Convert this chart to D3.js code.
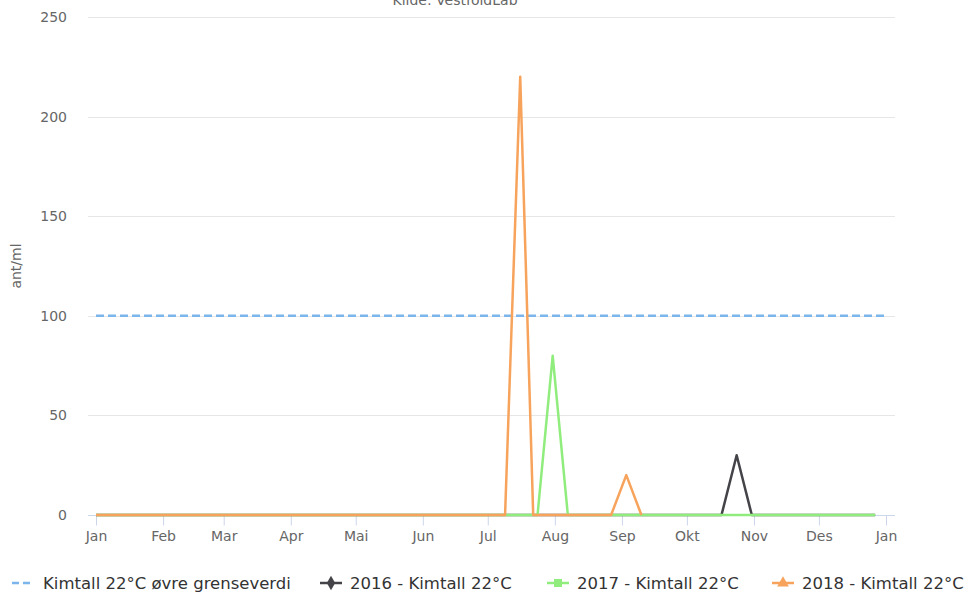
<!DOCTYPE html>
<html>
<head>
<meta charset="utf-8">
<script src="https://cdn.jsdelivr.net/npm/d3@7"></script>
<style>
  body { margin: 0; background: #fff; }
  text { font-family: "DejaVu Sans", sans-serif; }
</style>
</head>
<body>
<div id="caja"></div>
<script>
// verdier lest av bildet (ant/ml), datoer i 2018-aksen
var maaneder = ["Jan", "Feb", "Mar", "Apr", "Mai", "Jun", "Jul", "Aug", "Sep", "Okt", "Nov", "Des", "Jan"];
var yTicks = [0, 50, 100, 150, 200, 250];

var grenseDatoer = ["2018-01-01", "2019-01-01"];
var grenseVerdier = [100, 100];

var datoer2016 = ["2018-01-01", "2018-10-17", "2018-10-24", "2018-10-31", "2018-12-27"];
var verdier2016 = [0, 0, 30, 0, 0];

var datoer2017 = ["2018-01-01", "2018-07-24", "2018-07-31", "2018-08-07", "2018-12-27"];
var verdier2017 = [0, 0, 80, 0, 0];

var datoer2018 = ["2018-01-01", "2018-07-09", "2018-07-16", "2018-07-22", "2018-08-27", "2018-09-03", "2018-09-10"];
var verdier2018 = [0, 0, 220, 0, 0, 20, 0];

var serieNavn = ["Kimtall 22°C øvre grenseverdi", "2016 - Kimtall 22°C", "2017 - Kimtall 22°C", "2018 - Kimtall 22°C"];

var w = 971, h = 599;
var parse = d3.timeParse("%Y-%m-%d");

function lagSerie(datoer, verdier) {
	return datoer.map(function(d, i) { return {dato: parse(d), v: verdier[i]}; });
}

var serier = [
	{navn: serieNavn[0], farge: "#7cb5ec", data: lagSerie(grenseDatoer, grenseVerdier), dash: "8,4", symbol: null},
	{navn: serieNavn[1], farge: "#434348", data: lagSerie(datoer2016, verdier2016), symbol: d3.symbolDiamond},
	{navn: serieNavn[2], farge: "#90ed7d", data: lagSerie(datoer2017, verdier2017), symbol: d3.symbolSquare},
	{navn: serieNavn[3], farge: "#f7a35c", data: lagSerie(datoer2018, verdier2018), symbol: d3.symbolTriangle}
];

var svg = d3.select("#caja").append("svg")
	.attr("width", w)
	.attr("height", h);

var x = d3.scaleTime()
	.domain([parse("2018-01-01"), parse("2019-01-01")])
	.range([96, 886]);

var y = d3.scaleLinear()
	.domain([0, 250])
	.range([515, 17]);

var plotV = 88, plotH = 895;

// tittel (avskåret i toppen, som i originalen)
svg.append("text")
	.attr("x", 455).attr("y", 5)
	.attr("text-anchor", "middle")
	.attr("font-size", "14px")
	.attr("fill", "#666")
	.text("Kilde: VestfoldLab");

// rutenett
svg.append("g").selectAll("line")
	.data(yTicks)
	.enter().append("line")
	.attr("x1", plotV).attr("x2", plotH)
	.attr("y1", function(d) { return Math.round(y(d)) + 0.5; })
	.attr("y2", function(d) { return Math.round(y(d)) + 0.5; })
	.attr("stroke", "#e6e6e6")
	.attr("stroke-width", 1);

// y-etiketter
svg.append("g").selectAll("text")
	.data(yTicks)
	.enter().append("text")
	.attr("x", 67)
	.attr("y", function(d) { return y(d) + 5; })
	.attr("text-anchor", "end")
	.attr("font-size", "14px")
	.attr("fill", "#666")
	.text(function(d) { return d; });

svg.append("text")
	.attr("transform", "translate(21,266) rotate(-90)")
	.attr("text-anchor", "middle")
	.attr("font-size", "14px")
	.attr("fill", "#666")
	.text("ant/ml");

// x-akse
var maanedDatoer = d3.timeMonth.range(parse("2018-01-01"), parse("2019-01-02"));
var xAkse = d3.axisBottom(x)
	.tickValues(maanedDatoer)
	.tickSize(10)
	.tickPadding(6)
	.tickFormat(function(d, i) { return maaneder[i]; });

var gx = svg.append("g")
	.attr("transform", "translate(0,515.5)")
	.call(xAkse);
gx.select(".domain").remove();
gx.append("line")
	.attr("x1", plotV).attr("x2", plotH)
	.attr("stroke", "#ccd6eb");
gx.selectAll(".tick line").attr("stroke", "#ccd6eb");
gx.selectAll(".tick text")
	.attr("font-family", "DejaVu Sans, sans-serif")
	.attr("font-size", "14px")
	.attr("fill", "#666");

// linjer
var linje = d3.line()
	.x(function(d) { return x(d.dato); })
	.y(function(d) { return y(d.v); });

svg.append("g").selectAll("path")
	.data(serier)
	.enter().append("path")
	.attr("d", function(d) { return linje(d.data); })
	.attr("fill", "none")
	.attr("stroke", function(d) { return d.farge; })
	.attr("stroke-width", 2.5)
	.attr("stroke-dasharray", function(d) { return d.dash || null; })
	.attr("stroke-linejoin", "round");

// tegnforklaring
var legendX = [12, 320, 547, 772];
var leg = svg.append("g").selectAll("g")
	.data(serier)
	.enter().append("g")
	.attr("transform", function(d, i) { return "translate(" + legendX[i] + ",583)"; });

leg.append("line")
	.attr("x1", 0).attr("x2", 22)
	.attr("y1", 0).attr("y2", 0)
	.attr("stroke", function(d) { return d.farge; })
	.attr("stroke-width", 2.5)
	.attr("stroke-dasharray", function(d) { return d.dash ? "7,4" : null; });

leg.filter(function(d) { return d.symbol; })
	.append("path")
	.attr("transform", "translate(11,0)")
	.attr("d", function(d) { return d3.symbol().type(d.symbol).size(d.symbol === d3.symbolSquare ? 64 : 60)(); })
	.attr("fill", function(d) { return d.farge; });

leg.append("text")
	.attr("x", function(d, i) { return i === 0 ? 31 : 30; })
	.attr("y", 6)
	.attr("font-size", "16.5px")
	.attr("fill", "#333")
	.text(function(d) { return d.navn; });
</script>
</body>
</html>
